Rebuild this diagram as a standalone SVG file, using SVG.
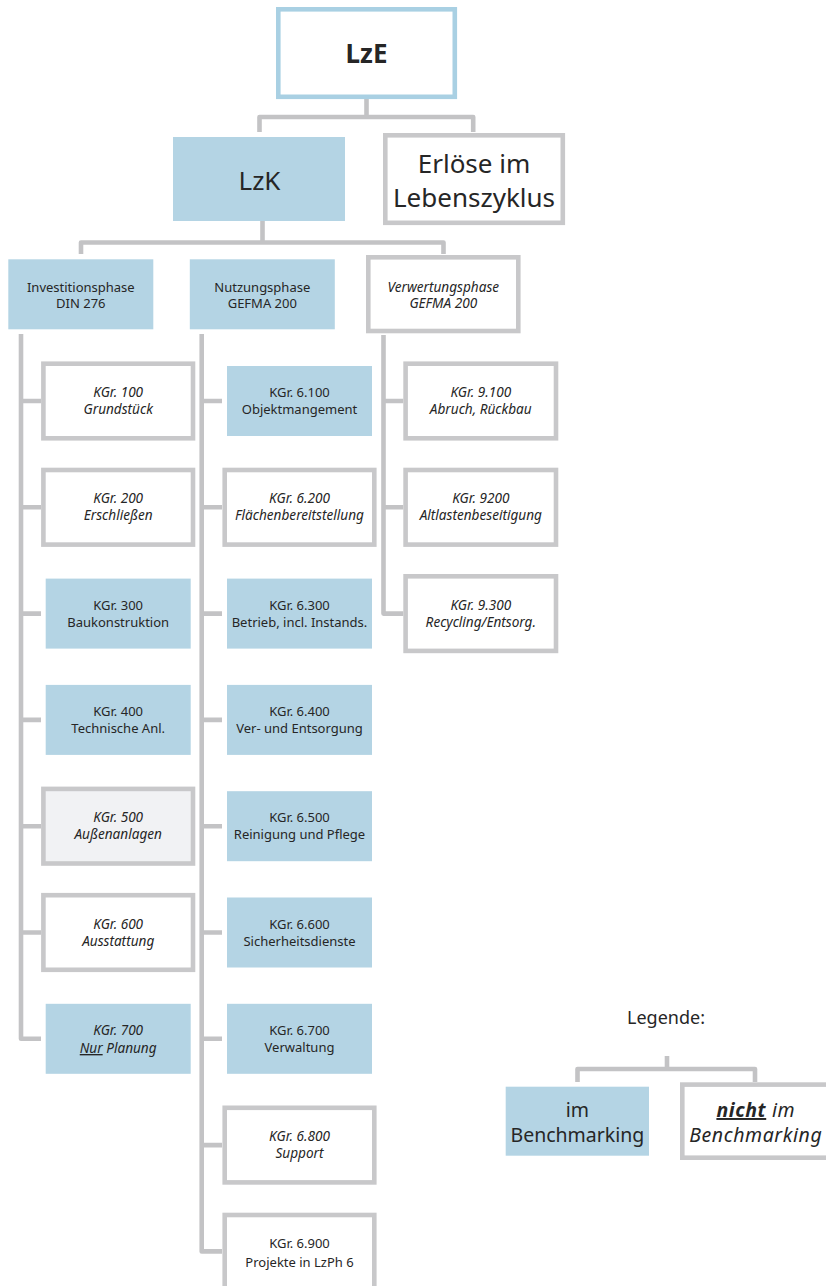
<svg xmlns="http://www.w3.org/2000/svg" width="826" height="1286" viewBox="0 0 826 1286">
  <style>
    text { font-family: "Noto Sans", "Open Sans", sans-serif; fill: #262626; text-anchor: middle; }
    .in { fill: #b4d4e4; }
    .out { fill: #ffffff; stroke: #c8c8ca; stroke-width: 4.6; }
    .grey { fill: #f1f2f4; stroke: #c8c8ca; stroke-width: 4.6; }
    .sm { font-size: 13px; }
    .hd { font-size: 13px; }
    .it { font-style: italic; }
    .sm.it, .hd.it { font-size: 13.6px; }
    .lg { font-size: 19.5px; }
    .lg.it { letter-spacing: 0.6px; }
    .conn path { fill: none; stroke: #c3c3c5; stroke-width: 4.6; stroke-linejoin: round; }
  </style>

  <!-- connectors -->
  <g id="connectors" class="conn">
    <path d="M366.5,99 V117"/>
    <path d="M259.5,132 V117 H473.2 V132"/>
    <path d="M262.5,221 V242.5"/>
    <path d="M81,254 V242.5 H443.5 V254"/>
    <!-- Investitionsphase trunk -->
    <path d="M21,334 V1038.8 H41"/>
    <path d="M21,401 H41 M21,507.3 H41 M21,613.6 H41 M21,719.9 H41 M21,826.2 H41 M21,932.5 H41"/>
    <!-- Nutzungsphase trunk -->
    <path d="M201.7,334 V1251.4 H222"/>
    <path d="M201.7,401 H222 M201.7,507.3 H222 M201.7,613.6 H222 M201.7,719.9 H222 M201.7,826.2 H222 M201.7,932.5 H222 M201.7,1038.8 H222 M201.7,1145.1 H222"/>
    <!-- Verwertungsphase trunk -->
    <path d="M383.5,335 V613.6 H403.3"/>
    <path d="M383.5,401 H403.3 M383.5,507.3 H403.3"/>
    <!-- legend -->
    <path d="M667,1056 V1069"/>
    <path d="M577.5,1082 V1069 H755 V1082"/>
  </g>

  <!-- top level -->
  <g id="lze">
    <rect x="278.3" y="9.3" width="176.5" height="87.5" fill="#ffffff" stroke="#a9d0e3" stroke-width="4.6"/>
    <text x="366.5" y="63" font-size="26" font-weight="bold">LzE</text>
  </g>
  <g id="lzk">
    <rect class="in" x="173" y="137" width="172" height="84"/>
    <text x="259.5" y="190" font-size="26">LzK</text>
  </g>
  <g id="erloese">
    <rect class="out" x="385.3" y="135.3" width="177.5" height="87.5"/>
    <text x="474" y="173" font-size="26">Erlöse im</text>
    <text x="474" y="207" font-size="26">Lebenszyklus</text>
  </g>

  <!-- phases -->
  <g id="investitionsphase">
    <rect class="in" x="8.3" y="259.3" width="145" height="70"/>
    <text class="hd" x="80.8" y="291.7">Investitionsphase</text>
    <text class="hd" x="80.8" y="308.3">DIN 276</text>
  </g>
  <g id="nutzungsphase">
    <rect class="in" x="189.8" y="259.3" width="145" height="70"/>
    <text class="hd" x="262.3" y="291.7">Nutzungsphase</text>
    <text class="hd" x="262.3" y="308.3">GEFMA 200</text>
  </g>
  <g id="verwertungsphase">
    <rect class="out" x="368.3" y="257.3" width="150" height="73.7"/>
    <text class="hd it" x="443.3" y="291.7">Verwertungsphase</text>
    <text class="hd it" x="443.3" y="308.3">GEFMA 200</text>
  </g>

  <!-- Investitionsphase column -->
  <g id="kgr100">
    <rect class="out" x="43.4" y="363.7" width="149.6" height="74.6"/>
    <text class="sm it" x="118.2" y="397">KGr. 100</text>
    <text class="sm it" x="118.2" y="414">Grundstück</text>
  </g>
  <g id="kgr200">
    <rect class="out" x="43.4" y="470" width="149.6" height="74.6"/>
    <text class="sm it" x="118.2" y="503.3">KGr. 200</text>
    <text class="sm it" x="118.2" y="520.3">Erschließen</text>
  </g>
  <g id="kgr300">
    <rect class="in" x="45.7" y="578.6" width="145" height="70"/>
    <text class="sm" x="118.2" y="609.6">KGr. 300</text>
    <text class="sm" x="118.2" y="626.6">Baukonstruktion</text>
  </g>
  <g id="kgr400">
    <rect class="in" x="45.7" y="684.9" width="145" height="70"/>
    <text class="sm" x="118.2" y="715.9">KGr. 400</text>
    <text class="sm" x="118.2" y="732.9">Technische Anl.</text>
  </g>
  <g id="kgr500">
    <rect class="grey" x="43.4" y="788.9" width="149.6" height="74.6"/>
    <text class="sm it" x="118.2" y="822.2">KGr. 500</text>
    <text class="sm it" x="118.2" y="839.2">Außenanlagen</text>
  </g>
  <g id="kgr600">
    <rect class="out" x="43.4" y="895.2" width="149.6" height="74.6"/>
    <text class="sm it" x="118.2" y="928.5">KGr. 600</text>
    <text class="sm it" x="118.2" y="945.5">Ausstattung</text>
  </g>
  <g id="kgr700">
    <rect class="in" x="45.7" y="1003.8" width="145" height="70"/>
    <text class="sm it" x="118.2" y="1035">KGr. 700</text>
    <text class="sm it" x="118.2" y="1053"><tspan text-decoration="underline">Nur</tspan> Planung</text>
  </g>

  <!-- Nutzungsphase column -->
  <g id="kgr6100">
    <rect class="in" x="227" y="366" width="145" height="70"/>
    <text class="sm" x="299.5" y="397">KGr. 6.100</text>
    <text class="sm" x="299.5" y="414">Objektmangement</text>
  </g>
  <g id="kgr6200">
    <rect class="out" x="224.7" y="470" width="149.6" height="74.6"/>
    <text class="sm it" x="299.5" y="503.3">KGr. 6.200</text>
    <text class="sm it" x="299.5" y="520.3">Flächenbereitstellung</text>
  </g>
  <g id="kgr6300">
    <rect class="in" x="227" y="578.6" width="145" height="70"/>
    <text class="sm" x="299.5" y="609.6">KGr. 6.300</text>
    <text class="sm" x="299.5" y="626.6">Betrieb, incl. Instands.</text>
  </g>
  <g id="kgr6400">
    <rect class="in" x="227" y="684.9" width="145" height="70"/>
    <text class="sm" x="299.5" y="715.9">KGr. 6.400</text>
    <text class="sm" x="299.5" y="732.9">Ver- und Entsorgung</text>
  </g>
  <g id="kgr6500">
    <rect class="in" x="227" y="791.2" width="145" height="70"/>
    <text class="sm" x="299.5" y="822.2">KGr. 6.500</text>
    <text class="sm" x="299.5" y="839.2">Reinigung und Pflege</text>
  </g>
  <g id="kgr6600">
    <rect class="in" x="227" y="897.5" width="145" height="70"/>
    <text class="sm" x="299.5" y="928.5">KGr. 6.600</text>
    <text class="sm" x="299.5" y="945.5">Sicherheitsdienste</text>
  </g>
  <g id="kgr6700">
    <rect class="in" x="227" y="1003.8" width="145" height="70"/>
    <text class="sm" x="299.5" y="1034.8">KGr. 6.700</text>
    <text class="sm" x="299.5" y="1051.8">Verwaltung</text>
  </g>
  <g id="kgr6800">
    <rect class="out" x="224.7" y="1107.8" width="149.6" height="74.6"/>
    <text class="sm it" x="299.5" y="1141.1">KGr. 6.800</text>
    <text class="sm it" x="299.5" y="1158.1">Support</text>
  </g>
  <g id="kgr6900">
    <rect class="out" x="224.7" y="1215" width="149.6" height="80"/>
    <text class="sm" x="299.5" y="1248">KGr. 6.900</text>
    <text class="sm" x="299.5" y="1266.5">Projekte in LzPh 6</text>
  </g>

  <!-- Verwertungsphase column -->
  <g id="kgr9100">
    <rect class="out" x="405.6" y="363.7" width="150.4" height="74.6"/>
    <text class="sm it" x="480.8" y="397">KGr. 9.100</text>
    <text class="sm it" x="480.8" y="414">Abruch, Rückbau</text>
  </g>
  <g id="kgr9200">
    <rect class="out" x="405.6" y="470" width="150.4" height="74.6"/>
    <text class="sm it" x="480.8" y="503.3">KGr. 9200</text>
    <text class="sm it" x="480.8" y="520.3">Altlastenbeseitigung</text>
  </g>
  <g id="kgr9300">
    <rect class="out" x="405.6" y="576.3" width="150.4" height="74.6"/>
    <text class="sm it" x="480.8" y="609.6">KGr. 9.300</text>
    <text class="sm it" x="480.8" y="626.6">Recycling/Entsorg.</text>
  </g>

  <!-- legend -->
  <g id="legende">
    <text x="666" y="1024" font-size="18">Legende:</text>
  </g>
  <g id="legend-im">
    <rect class="in" x="505.7" y="1086.7" width="143.3" height="69"/>
    <text class="lg" x="577.4" y="1116.7">im</text>
    <text class="lg" x="577.4" y="1141.7">Benchmarking</text>
  </g>
  <g id="legend-nicht">
    <rect class="out" x="682.3" y="1084.6" width="160" height="73.1"/>
    <text class="lg it" x="755.8" y="1117"><tspan font-weight="bold" text-decoration="underline">nicht</tspan> im</text>
    <text class="lg it" x="755.8" y="1142">Benchmarking</text>
  </g>
</svg>
